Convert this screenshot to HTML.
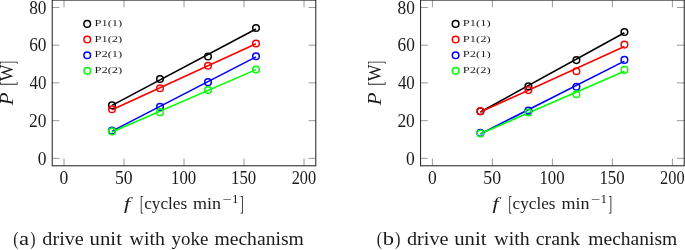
<!DOCTYPE html>
<html><head><meta charset="utf-8"><title>figure</title>
<style>
html,body{margin:0;padding:0;background:#fff;}
svg{display:block;will-change:transform;}
text{font-family:"Liberation Serif",serif;fill:#1a1a1a;}
.tk{stroke:#808080;stroke-width:0.8;}
.fr{fill:none;stroke:#111;stroke-width:0.95;}
.ln{stroke-width:1.6;fill:none;}
.mk{stroke-width:1.5;fill:none;}
</style></head>
<body>
<svg width="685" height="250" viewBox="0 0 685 250">
<rect width="685" height="250" fill="#fff"/>
<g transform="translate(0,0)">
<line x1="64.00" y1="165.8" x2="64.00" y2="158.60000000000002" class="tk"/>
<line x1="64.00" y1="0.1" x2="64.00" y2="7.3" class="tk"/>
<line x1="124.00" y1="165.8" x2="124.00" y2="158.60000000000002" class="tk"/>
<line x1="124.00" y1="0.1" x2="124.00" y2="7.3" class="tk"/>
<line x1="184.00" y1="165.8" x2="184.00" y2="158.60000000000002" class="tk"/>
<line x1="184.00" y1="0.1" x2="184.00" y2="7.3" class="tk"/>
<line x1="244.00" y1="165.8" x2="244.00" y2="158.60000000000002" class="tk"/>
<line x1="244.00" y1="0.1" x2="244.00" y2="7.3" class="tk"/>
<line x1="304.00" y1="165.8" x2="304.00" y2="158.60000000000002" class="tk"/>
<line x1="304.00" y1="0.1" x2="304.00" y2="7.3" class="tk"/>
<line x1="52.2" y1="158.35" x2="59.400000000000006" y2="158.35" class="tk"/>
<line x1="315.8" y1="158.35" x2="308.6" y2="158.35" class="tk"/>
<line x1="52.2" y1="120.63" x2="59.400000000000006" y2="120.63" class="tk"/>
<line x1="315.8" y1="120.63" x2="308.6" y2="120.63" class="tk"/>
<line x1="52.2" y1="82.91" x2="59.400000000000006" y2="82.91" class="tk"/>
<line x1="315.8" y1="82.91" x2="308.6" y2="82.91" class="tk"/>
<line x1="52.2" y1="45.19" x2="59.400000000000006" y2="45.19" class="tk"/>
<line x1="315.8" y1="45.19" x2="308.6" y2="45.19" class="tk"/>
<line x1="52.2" y1="7.47" x2="59.400000000000006" y2="7.47" class="tk"/>
<line x1="315.8" y1="7.47" x2="308.6" y2="7.47" class="tk"/>
<rect x="52.2" y="0.1" width="263.60" height="165.70" class="fr"/>
<text x="59.60" y="183.70" font-size="18.6" textLength="8.74" lengthAdjust="spacingAndGlyphs">0</text>
<text x="114.98" y="183.70" font-size="18.6" textLength="17.66" lengthAdjust="spacingAndGlyphs">50</text>
<text x="171.03" y="183.70" font-size="18.6" textLength="25.17" lengthAdjust="spacingAndGlyphs">100</text>
<text x="231.03" y="183.70" font-size="18.6" textLength="25.17" lengthAdjust="spacingAndGlyphs">150</text>
<text x="291.73" y="183.70" font-size="18.6" textLength="24.45" lengthAdjust="spacingAndGlyphs">200</text>
<text x="37.65" y="164.50" font-size="18.6" textLength="8.74" lengthAdjust="spacingAndGlyphs">0</text>
<text x="29.03" y="126.78" font-size="18.6" textLength="17.40" lengthAdjust="spacingAndGlyphs">20</text>
<text x="29.51" y="89.06" font-size="18.6" textLength="16.90" lengthAdjust="spacingAndGlyphs">40</text>
<text x="29.15" y="51.34" font-size="18.6" textLength="17.27" lengthAdjust="spacingAndGlyphs">60</text>
<text x="29.15" y="13.62" font-size="18.6" textLength="17.27" lengthAdjust="spacingAndGlyphs">80</text>
<line x1="112.00" y1="105.37" x2="256.00" y2="29.05" stroke="#000000" class="ln"/>
<line x1="112.00" y1="109.67" x2="256.00" y2="43.70" stroke="#ff0000" class="ln"/>
<line x1="112.00" y1="131.14" x2="256.00" y2="56.85" stroke="#0000ff" class="ln"/>
<line x1="112.00" y1="131.93" x2="256.00" y2="69.63" stroke="#00ff00" class="ln"/>
<circle cx="112.00" cy="105.35" r="3.3" stroke="#000000" class="mk"/>
<circle cx="160.00" cy="78.95" r="3.3" stroke="#000000" class="mk"/>
<circle cx="208.00" cy="56.51" r="3.3" stroke="#000000" class="mk"/>
<circle cx="256.00" cy="28.03" r="3.3" stroke="#000000" class="mk"/>
<circle cx="112.00" cy="109.31" r="3.3" stroke="#ff0000" class="mk"/>
<circle cx="160.00" cy="88.19" r="3.3" stroke="#ff0000" class="mk"/>
<circle cx="208.00" cy="65.75" r="3.3" stroke="#ff0000" class="mk"/>
<circle cx="256.00" cy="43.49" r="3.3" stroke="#ff0000" class="mk"/>
<circle cx="112.00" cy="130.63" r="3.3" stroke="#0000ff" class="mk"/>
<circle cx="160.00" cy="106.86" r="3.3" stroke="#0000ff" class="mk"/>
<circle cx="208.00" cy="82.16" r="3.3" stroke="#0000ff" class="mk"/>
<circle cx="256.00" cy="56.32" r="3.3" stroke="#0000ff" class="mk"/>
<circle cx="112.00" cy="131.38" r="3.3" stroke="#00ff00" class="mk"/>
<circle cx="160.00" cy="112.14" r="3.3" stroke="#00ff00" class="mk"/>
<circle cx="208.00" cy="90.08" r="3.3" stroke="#00ff00" class="mk"/>
<circle cx="256.00" cy="69.52" r="3.3" stroke="#00ff00" class="mk"/>
<circle cx="87.2" cy="23.90" r="3.3" stroke="#000000" class="mk"/>
<text x="94.45" y="26.05" font-size="9.0" textLength="27.82" lengthAdjust="spacingAndGlyphs" fill="#222">P1(1)</text>
<circle cx="87.2" cy="39.55" r="3.3" stroke="#ff0000" class="mk"/>
<text x="94.45" y="41.70" font-size="9.0" textLength="27.82" lengthAdjust="spacingAndGlyphs" fill="#222">P1(2)</text>
<circle cx="87.2" cy="55.20" r="3.3" stroke="#0000ff" class="mk"/>
<text x="94.45" y="57.35" font-size="9.0" textLength="27.82" lengthAdjust="spacingAndGlyphs" fill="#222">P2(1)</text>
<circle cx="87.2" cy="70.85" r="3.3" stroke="#00ff00" class="mk"/>
<text x="94.45" y="73.00" font-size="9.0" textLength="27.82" lengthAdjust="spacingAndGlyphs" fill="#222">P2(2)</text>
<g transform="translate(13,105.5) rotate(-90)">
<text x="0.34" y="0.00" font-size="18.0" font-style="italic" textLength="12.73" lengthAdjust="spacingAndGlyphs">P</text>
<text x="19.88" y="0.90" font-size="21.0" textLength="3.83" lengthAdjust="spacingAndGlyphs">[</text>
<text x="24.20" y="0.00" font-size="18.0" textLength="16.79" lengthAdjust="spacingAndGlyphs">W</text>
<text x="40.91" y="0.90" font-size="21.0" textLength="3.63" lengthAdjust="spacingAndGlyphs">]</text>
</g>
<text x="124.08" y="209.00" font-size="17.2" font-style="italic" textLength="6.18" lengthAdjust="spacingAndGlyphs">f</text>
<text x="140.04" y="209.90" font-size="21.0" textLength="3.53" lengthAdjust="spacingAndGlyphs">[</text>
<text x="144.18" y="209.00" font-size="17.2" textLength="42.92" lengthAdjust="spacingAndGlyphs">cycles</text>
<text x="193.01" y="209.00" font-size="17.2" textLength="28.06" lengthAdjust="spacingAndGlyphs">min</text>
<text x="222.54" y="202.80" font-size="11.8" textLength="9.20" lengthAdjust="spacingAndGlyphs">−</text>
<text x="232.09" y="202.80" font-size="11.8" textLength="6.53" lengthAdjust="spacingAndGlyphs">1</text>
<text x="240.01" y="209.90" font-size="21.0" textLength="3.63" lengthAdjust="spacingAndGlyphs">]</text>
</g>
<g transform="translate(368.4,0)">
<line x1="64.00" y1="165.8" x2="64.00" y2="158.60000000000002" class="tk"/>
<line x1="64.00" y1="0.1" x2="64.00" y2="7.3" class="tk"/>
<line x1="124.00" y1="165.8" x2="124.00" y2="158.60000000000002" class="tk"/>
<line x1="124.00" y1="0.1" x2="124.00" y2="7.3" class="tk"/>
<line x1="184.00" y1="165.8" x2="184.00" y2="158.60000000000002" class="tk"/>
<line x1="184.00" y1="0.1" x2="184.00" y2="7.3" class="tk"/>
<line x1="244.00" y1="165.8" x2="244.00" y2="158.60000000000002" class="tk"/>
<line x1="244.00" y1="0.1" x2="244.00" y2="7.3" class="tk"/>
<line x1="304.00" y1="165.8" x2="304.00" y2="158.60000000000002" class="tk"/>
<line x1="304.00" y1="0.1" x2="304.00" y2="7.3" class="tk"/>
<line x1="52.2" y1="158.35" x2="59.400000000000006" y2="158.35" class="tk"/>
<line x1="315.8" y1="158.35" x2="308.6" y2="158.35" class="tk"/>
<line x1="52.2" y1="120.63" x2="59.400000000000006" y2="120.63" class="tk"/>
<line x1="315.8" y1="120.63" x2="308.6" y2="120.63" class="tk"/>
<line x1="52.2" y1="82.91" x2="59.400000000000006" y2="82.91" class="tk"/>
<line x1="315.8" y1="82.91" x2="308.6" y2="82.91" class="tk"/>
<line x1="52.2" y1="45.19" x2="59.400000000000006" y2="45.19" class="tk"/>
<line x1="315.8" y1="45.19" x2="308.6" y2="45.19" class="tk"/>
<line x1="52.2" y1="7.47" x2="59.400000000000006" y2="7.47" class="tk"/>
<line x1="315.8" y1="7.47" x2="308.6" y2="7.47" class="tk"/>
<rect x="52.2" y="0.1" width="263.60" height="165.70" class="fr"/>
<text x="59.60" y="183.70" font-size="18.6" textLength="8.74" lengthAdjust="spacingAndGlyphs">0</text>
<text x="114.98" y="183.70" font-size="18.6" textLength="17.66" lengthAdjust="spacingAndGlyphs">50</text>
<text x="171.03" y="183.70" font-size="18.6" textLength="25.17" lengthAdjust="spacingAndGlyphs">100</text>
<text x="231.03" y="183.70" font-size="18.6" textLength="25.17" lengthAdjust="spacingAndGlyphs">150</text>
<text x="291.73" y="183.70" font-size="18.6" textLength="24.45" lengthAdjust="spacingAndGlyphs">200</text>
<text x="37.65" y="164.50" font-size="18.6" textLength="8.74" lengthAdjust="spacingAndGlyphs">0</text>
<text x="29.03" y="126.78" font-size="18.6" textLength="17.40" lengthAdjust="spacingAndGlyphs">20</text>
<text x="29.51" y="89.06" font-size="18.6" textLength="16.90" lengthAdjust="spacingAndGlyphs">40</text>
<text x="29.15" y="51.34" font-size="18.6" textLength="17.27" lengthAdjust="spacingAndGlyphs">60</text>
<text x="29.15" y="13.62" font-size="18.6" textLength="17.27" lengthAdjust="spacingAndGlyphs">80</text>
<line x1="112.00" y1="111.97" x2="256.00" y2="32.82" stroke="#000000" class="ln"/>
<line x1="112.00" y1="112.07" x2="256.00" y2="46.49" stroke="#ff0000" class="ln"/>
<line x1="112.00" y1="133.96" x2="256.00" y2="61.09" stroke="#0000ff" class="ln"/>
<line x1="112.00" y1="133.83" x2="256.00" y2="71.17" stroke="#00ff00" class="ln"/>
<circle cx="112.00" cy="111.20" r="3.3" stroke="#000000" class="mk"/>
<circle cx="160.00" cy="86.30" r="3.3" stroke="#000000" class="mk"/>
<circle cx="208.00" cy="60.09" r="3.3" stroke="#000000" class="mk"/>
<circle cx="256.00" cy="31.99" r="3.3" stroke="#000000" class="mk"/>
<circle cx="112.00" cy="111.20" r="3.3" stroke="#ff0000" class="mk"/>
<circle cx="160.00" cy="90.08" r="3.3" stroke="#ff0000" class="mk"/>
<circle cx="208.00" cy="71.22" r="3.3" stroke="#ff0000" class="mk"/>
<circle cx="256.00" cy="44.62" r="3.3" stroke="#ff0000" class="mk"/>
<circle cx="112.00" cy="132.89" r="3.3" stroke="#0000ff" class="mk"/>
<circle cx="160.00" cy="110.63" r="3.3" stroke="#0000ff" class="mk"/>
<circle cx="208.00" cy="86.68" r="3.3" stroke="#0000ff" class="mk"/>
<circle cx="256.00" cy="59.90" r="3.3" stroke="#0000ff" class="mk"/>
<circle cx="112.00" cy="133.45" r="3.3" stroke="#00ff00" class="mk"/>
<circle cx="160.00" cy="112.43" r="3.3" stroke="#00ff00" class="mk"/>
<circle cx="208.00" cy="94.23" r="3.3" stroke="#00ff00" class="mk"/>
<circle cx="256.00" cy="69.90" r="3.3" stroke="#00ff00" class="mk"/>
<circle cx="87.2" cy="23.90" r="3.3" stroke="#000000" class="mk"/>
<text x="94.45" y="26.05" font-size="9.0" textLength="27.82" lengthAdjust="spacingAndGlyphs" fill="#222">P1(1)</text>
<circle cx="87.2" cy="39.55" r="3.3" stroke="#ff0000" class="mk"/>
<text x="94.45" y="41.70" font-size="9.0" textLength="27.82" lengthAdjust="spacingAndGlyphs" fill="#222">P1(2)</text>
<circle cx="87.2" cy="55.20" r="3.3" stroke="#0000ff" class="mk"/>
<text x="94.45" y="57.35" font-size="9.0" textLength="27.82" lengthAdjust="spacingAndGlyphs" fill="#222">P2(1)</text>
<circle cx="87.2" cy="70.85" r="3.3" stroke="#00ff00" class="mk"/>
<text x="94.45" y="73.00" font-size="9.0" textLength="27.82" lengthAdjust="spacingAndGlyphs" fill="#222">P2(2)</text>
<g transform="translate(13,105.5) rotate(-90)">
<text x="0.34" y="0.00" font-size="18.0" font-style="italic" textLength="12.73" lengthAdjust="spacingAndGlyphs">P</text>
<text x="19.88" y="0.90" font-size="21.0" textLength="3.83" lengthAdjust="spacingAndGlyphs">[</text>
<text x="24.20" y="0.00" font-size="18.0" textLength="16.79" lengthAdjust="spacingAndGlyphs">W</text>
<text x="40.91" y="0.90" font-size="21.0" textLength="3.63" lengthAdjust="spacingAndGlyphs">]</text>
</g>
<text x="124.08" y="209.00" font-size="17.2" font-style="italic" textLength="6.18" lengthAdjust="spacingAndGlyphs">f</text>
<text x="140.04" y="209.90" font-size="21.0" textLength="3.53" lengthAdjust="spacingAndGlyphs">[</text>
<text x="144.18" y="209.00" font-size="17.2" textLength="42.92" lengthAdjust="spacingAndGlyphs">cycles</text>
<text x="193.01" y="209.00" font-size="17.2" textLength="28.06" lengthAdjust="spacingAndGlyphs">min</text>
<text x="222.54" y="202.80" font-size="11.8" textLength="9.20" lengthAdjust="spacingAndGlyphs">−</text>
<text x="232.09" y="202.80" font-size="11.8" textLength="6.53" lengthAdjust="spacingAndGlyphs">1</text>
<text x="240.01" y="209.90" font-size="21.0" textLength="3.63" lengthAdjust="spacingAndGlyphs">]</text>
</g>
<text x="13.13" y="244.90" font-size="19.2" textLength="5.25" lengthAdjust="spacingAndGlyphs">(</text>
<text x="18.99" y="244.70" font-size="18.5" textLength="10.02" lengthAdjust="spacingAndGlyphs">a</text>
<text x="30.34" y="244.90" font-size="19.2" textLength="5.25" lengthAdjust="spacingAndGlyphs">)</text>
<text x="42.37" y="244.70" font-size="18.5" textLength="41.37" lengthAdjust="spacingAndGlyphs">drive</text>
<text x="89.57" y="244.70" font-size="18.5" textLength="32.36" lengthAdjust="spacingAndGlyphs">unit</text>
<text x="129.60" y="244.70" font-size="18.5" textLength="35.39" lengthAdjust="spacingAndGlyphs">with</text>
<text x="171.59" y="244.70" font-size="18.5" textLength="36.76" lengthAdjust="spacingAndGlyphs">yoke</text>
<text x="214.45" y="244.70" font-size="18.5" textLength="89.37" lengthAdjust="spacingAndGlyphs">mechanism</text>
<text x="376.63" y="244.90" font-size="19.2" textLength="5.25" lengthAdjust="spacingAndGlyphs">(</text>
<text x="382.80" y="244.70" font-size="18.5" textLength="11.32" lengthAdjust="spacingAndGlyphs">b</text>
<text x="395.07" y="244.90" font-size="19.2" textLength="5.44" lengthAdjust="spacingAndGlyphs">)</text>
<text x="406.92" y="244.70" font-size="18.5" textLength="41.58" lengthAdjust="spacingAndGlyphs">drive</text>
<text x="454.22" y="244.70" font-size="18.5" textLength="32.36" lengthAdjust="spacingAndGlyphs">unit</text>
<text x="494.30" y="244.70" font-size="18.5" textLength="35.28" lengthAdjust="spacingAndGlyphs">with</text>
<text x="535.69" y="244.70" font-size="18.5" textLength="44.37" lengthAdjust="spacingAndGlyphs">crank</text>
<text x="588.30" y="244.70" font-size="18.5" textLength="88.86" lengthAdjust="spacingAndGlyphs">mechanism</text>
</svg>
</body></html>
